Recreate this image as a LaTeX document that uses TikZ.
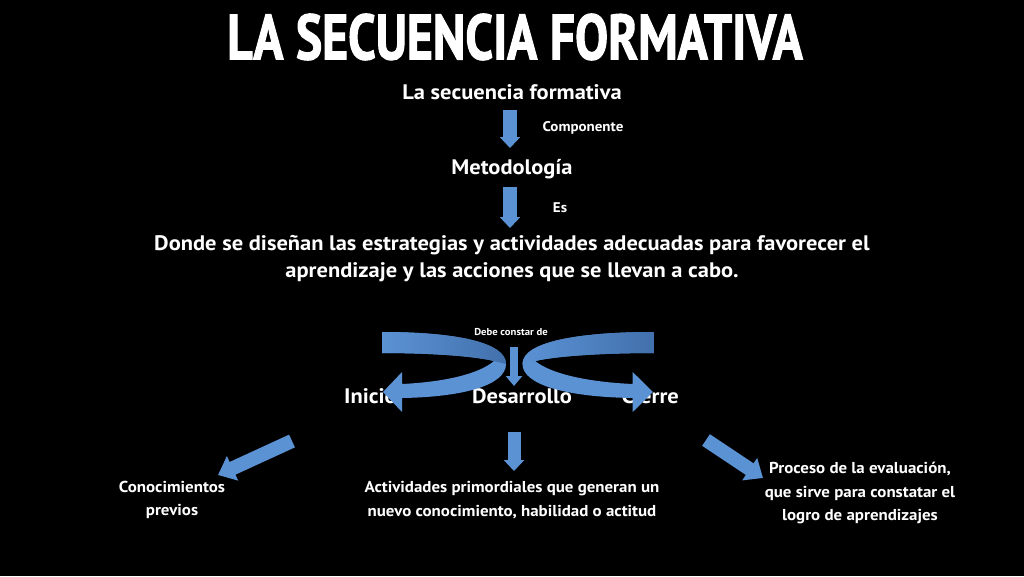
\documentclass[tikz,border=0pt]{standalone}
\usepackage{fontspec}
\setmainfont{PT Sans}[FakeStretch=1.07]
\newfontfamily\titlefont{PT Sans}[FakeStretch=0.775,BoldFeatures={FakeBold=1.6}]
\usetikzlibrary{arrows.meta}
\definecolor{blueA}{RGB}{91,146,212}
\definecolor{blueD}{RGB}{66,112,172}
\newcommand\curvedarr{%
  \fill[blueA] (-132,332) .. controls (-60,332) and (-8,342) .. (-8,364)
    .. controls (-8,385) and (-50,397) .. (-112,398) -- (-112,412) -- (-131,392)
    -- (-112,372) -- (-112,384) .. controls (-70,382) and (-35,374) .. (-20,361)
    .. controls (-45,355) and (-95,353) .. (-132,353) -- cycle;
  \shade[left color=blueA,middle color=blueA!80!blueD,right color=blueD] (-132,332) .. controls (-60,332) and (-8,342) .. (-8,364)
    -- (-20,361) .. controls (-45,355) and (-95,353) .. (-132,353) -- cycle;
}
\begin{document}
\begin{tikzpicture}[x=1pt,y=-1pt,
  txt/.style={text=white,inner sep=0pt,font=\bfseries\fontsize{21}{27}\selectfont},
  ttl/.style={text=white,inner sep=0pt,font=\titlefont\bfseries\fontsize{64}{70}\selectfont},
  smalltxt/.style={text=white,inner sep=0pt,font=\bfseries\fontsize{14}{16}\selectfont},
  tinytxt/.style={text=white,inner sep=0pt,font=\bfseries\fontsize{10}{11}\selectfont},
  btxt/.style={text=white,inner sep=0pt,align=center,font=\bfseries\fontsize{15.8}{23.5}\selectfont},
  blk/.style={draw=blueA,line width=14pt,-{Triangle[width=20pt,length=11pt]}},
  blkd/.style={draw=blueA,line width=14pt,-{Triangle[width=26pt,length=16pt]}}]
\fill[black] (0,0) rectangle (1024,576);
\useasboundingbox (0,0) rectangle (1024,576);

\node[ttl] (title) at (515,37) {LA SECUENCIA FORMATIVA};
\node[txt] (sec) at (512,92) {La secuencia formativa};
\node[smalltxt] (comp) at (583,128) {Componente};
\node[txt] (met) at (512,169) {Metodología};
\node[smalltxt] (es) at (560,208) {Es};
\node[txt,align=center] (donde) at (512,259) {Donde se diseñan las estrategias y actividades adecuadas para favorecer el\\aprendizaje y las acciones que se llevan a cabo.};

\node[txt,anchor=base west] (ini) at (344,403) {Inicio};
\node[txt,anchor=base] (des) at (522,403) {Desarrollo};
\node[txt,anchor=base east] (cie) at (679,403) {Cierre};

\node[btxt] (con) at (172,500) {Conocimientos\\previos};
\node[btxt] (act) at (512,500) {Actividades primordiales que generan un\\nuevo conocimiento, habilidad o actitud};
\node[btxt] (pro) at (860,493) {Proceso de la evaluación,\\que sirve para constatar el\\logro de aprendizajes};

% straight connectors
\coordinate (a1s) at (510,110); \coordinate (a1e) at (510,148);
\coordinate (a2s) at (510,187); \coordinate (a2e) at (510,228);
\coordinate (bls) at (292,441); \coordinate (ble) at (218,475);
\coordinate (bms) at (514,432); \coordinate (bme) at (514,471);
\coordinate (brs) at (706,440); \coordinate (bre) at (763,478);
\coordinate (ms) at (514,347); \coordinate (me) at (514,386);
\draw[blk] (a1s) -- (a1e);
\draw[blk] (a2s) -- (a2e);
\draw[blkd] (bls) -- (ble);
\draw[blk,line width=13pt] (bms) -- (bme);
\draw[blkd] (brs) -- (bre);

% curved arrows
\begin{scope}[shift={(514,0)}] \curvedarr \end{scope}
\begin{scope}[shift={(514,0)},xscale=-1.06] \curvedarr \end{scope}
\draw[draw=blueA,line width=8pt,-{Triangle[width=16pt,length=10pt]}] (ms) -- (me);

\node[tinytxt] (debe) at (511,332) {Debe constar de};
\end{tikzpicture}
\end{document}
